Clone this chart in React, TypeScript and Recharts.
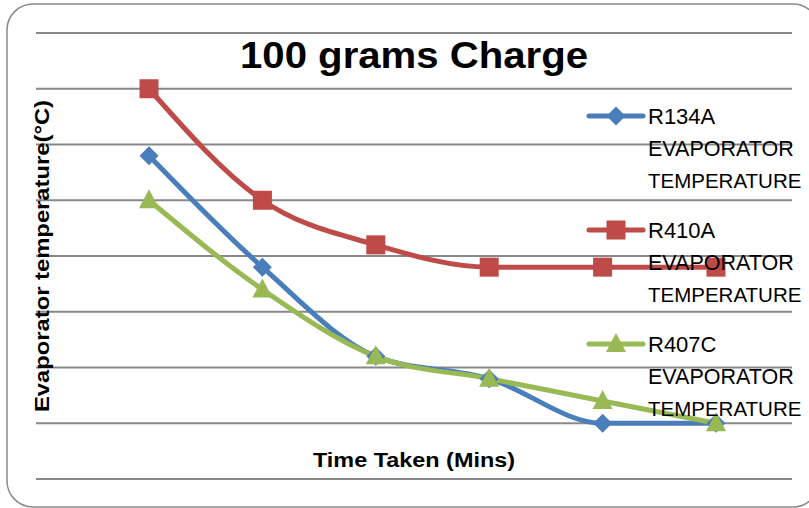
import React from "react";
import { LineChart, Line, XAxis, YAxis, CartesianGrid } from "recharts";

// time steps (no tick labels shown on the original chart)
const times = ["1", "2", "3", "4", "5", "6"];

// evaporator temperature, °C
const r134a = [9, -1, -9, -11, -15, -15];
const r410a = [15, 5, 1, -1, -1, -1];
const r407c = [5, -3, -9, -11, -13, -15];

const yTicks = [-20, -15, -10, -5, 0, 5, 10, 15, 20];

const seriesInfo = [
  { key: "r134a", name: "R134A", color: "#4A7EBB", marker: "diamond" },
  { key: "r410a", name: "R410A", color: "#BE4B48", marker: "square" },
  { key: "r407c", name: "R407C", color: "#98B954", marker: "triangle" },
];

const data = times.map((t, i) => ({
  time: t,
  r134a: r134a[i],
  r410a: r410a[i],
  r407c: r407c[i],
}));

const W = 809;
const H = 508;
const FONT = "'Liberation Sans', Arial, sans-serif";

function Marker({ kind, cx, cy, color }: { kind: string; cx: number; cy: number; color: string }) {
  if (kind === "diamond") {
    const r = 9.5;
    return <polygon points={`${cx},${cy - r} ${cx + r},${cy} ${cx},${cy + r} ${cx - r},${cy}`} fill={color} />;
  }
  if (kind === "square") {
    const s = 9.5;
    return <rect x={cx - s} y={cy - s} width={s * 2} height={s * 2} fill={color} />;
  }
  const r = 10;
  return <polygon points={`${cx},${cy - 11} ${cx + r},${cy + 8} ${cx - r},${cy + 8}`} fill={color} />;
}

function makeDot(kind: string, color: string) {
  return (props: any) => {
    const { cx, cy, index } = props;
    if (cx == null || cy == null) return <g key={index} />;
    return (
      <g key={index}>
        <Marker kind={kind} cx={cx} cy={cy} color={color} />
      </g>
    );
  };
}

function Overlay() {
  const legendTop = 116;
  const step = 114;
  return (
    <svg
      width={W}
      height={H}
      style={{ position: "absolute", left: 0, top: 0, pointerEvents: "none" }}
    >
      <rect x={7} y={4} width={812} height={503} rx={26} fill="none" stroke="#8a8a8a" strokeWidth={1.5} />
      <text
        x={414}
        y={68}
        textAnchor="middle"
        fontFamily={FONT}
        fontWeight="bold"
        fontSize={36}
        textLength={348}
        lengthAdjust="spacingAndGlyphs"
        fill="#000"
      >
        100 grams Charge
      </text>
      <text
        x={414}
        y={467}
        textAnchor="middle"
        fontFamily={FONT}
        fontWeight="bold"
        fontSize={20}
        textLength={202}
        lengthAdjust="spacingAndGlyphs"
        fill="#000"
      >
        Time Taken (Mins)
      </text>
      <text
        transform="translate(49, 256) rotate(-90)"
        textAnchor="middle"
        fontFamily={FONT}
        fontWeight="bold"
        fontSize={20}
        textLength={312}
        lengthAdjust="spacingAndGlyphs"
        fill="#000"
      >
        Evaporator temperature(°C)
      </text>
      {seriesInfo.map((s, i) => {
        const y = legendTop + i * step;
        return (
          <g key={s.key}>
            <line x1={589} x2={643} y1={y} y2={y} stroke={s.color} strokeWidth={5} strokeLinecap="round" />
            <Marker kind={s.marker} cx={616} cy={y} color={s.color} />
            <text x={648} y={y + 8} fontFamily={FONT} fontSize={22} fill="#000">
              {s.name}
            </text>
            <text x={648} y={y + 40} fontFamily={FONT} fontSize={21.5} fill="#000">
              EVAPORATOR
            </text>
            <text x={648} y={y + 72} fontFamily={FONT} fontSize={20.5} fill="#000">
              TEMPERATURE
            </text>
          </g>
        );
      })}
    </svg>
  );
}

export default function App() {
  return (
    <div style={{ position: "absolute", left: 0, top: 0, width: W, height: H, background: "#fff" }}>
      <LineChart width={W} height={H} data={data} margin={{ top: 33, right: 17, bottom: 29, left: 36 }}>
        <CartesianGrid vertical={false} stroke="#888" strokeWidth={1.8} />
        <XAxis dataKey="time" hide padding={{ left: 113, right: 76 }} />
        <YAxis hide domain={[-20, 20]} ticks={yTicks} type="number" />
        {seriesInfo.map((s) => (
          <Line
            key={s.key}
            dataKey={s.key}
            name={s.name}
            type="monotone"
            stroke={s.color}
            strokeWidth={5}
            dot={makeDot(s.marker, s.color)}
            activeDot={false}
            isAnimationActive={false}
          />
        ))}
      </LineChart>
      <Overlay />
    </div>
  );
}
